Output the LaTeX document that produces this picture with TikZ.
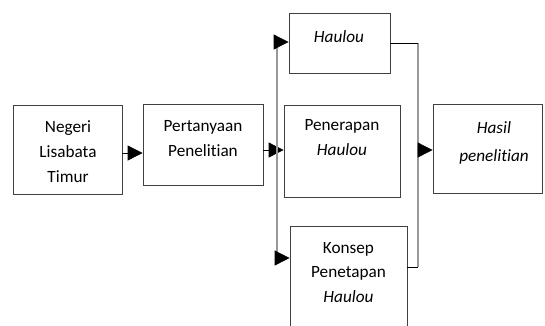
\documentclass[tikz,border=0pt]{standalone}
\usepackage{fontspec}
\setmainfont[Ligatures=NoCommon]{Carlito}
\usetikzlibrary{arrows.meta}
\begin{document}
\begin{tikzpicture}[x=1pt,y=-1pt,
  box/.style={draw=black!75,line width=0.8pt},
  txt/.style={align=center,inner sep=0pt,font=\fontsize{17.2}{25}\selectfont},
  arr/.style={line width=0.8pt,-{Triangle[length=15pt,width=15pt]}},
  vline/.style={draw=black!40,line width=1.2pt},
  hline/.style={draw=black,line width=1pt}]
\useasboundingbox (0,0) rectangle (545,325);
\clip (0,0) rectangle (545,325);
% boxes
\node[box,minimum width=109pt,minimum height=89pt,inner sep=0pt] (b1) at (67.5,149.5) {};
\node[box,minimum width=120pt,minimum height=81pt,inner sep=0pt] (b2) at (203,144.5) {};
\node[box,minimum width=101pt,minimum height=60pt,inner sep=0pt] (hau) at (339.5,43) {};
\node[box,minimum width=116pt,minimum height=92pt,inner sep=0pt] (pen) at (342,151) {};
\node[box,minimum width=117pt,minimum height=114pt,inner sep=0pt] (kon) at (348.5,283) {};
\node[box,minimum width=109pt,minimum height=89pt,inner sep=0pt] (has) at (487.5,148.5) {};
% texts
\node[txt] (t1) at (68,152) {Negeri\\Lisabata\\Timur};
\node[txt] (t2) at (203,138.5) {Pertanyaan\\Penelitian};
\node[txt] (t3) at (339,37) {\itshape Haulou};
\node[txt] (t4) at (342,137.5) {Penerapan\\\itshape Haulou};
\node[txt,font=\fontsize{17.2}{24.5}\selectfont] (t5) at (348.5,272.5) {Konsep\\Penetapan\\\itshape Haulou};
\node[txt,font=\fontsize{17.2}{28}\selectfont\itshape] (t6) at (494,143) {Hasil\\penelitian};
% helper coordinates
\coordinate (yA) at (0,153);
\coordinate (yB) at (0,150);
\coordinate (yH) at (0,42);
\coordinate (yK) at (0,258);
\coordinate (yR1) at (0,43);
\coordinate (yR2) at (0,267);
\coordinate (L) at (277,0);
\coordinate (R) at (418,0);
% connectors
\draw[arr] (b1.east |- yA) -- (b2.west |- yA);
\draw[arr] (b2.east |- yB) -- (pen.west |- yB);
\draw[vline] (L |- yH) -- (L |- yK);
\draw[arr] (L |- yH) -- (hau.west |- yH);
\draw[arr] (L |- yK) -- (kon.west |- yK);
\draw[vline] (R |- yR1) -- (R |- yR2);
\draw[hline] (hau.east |- yR1) -- (R |- yR1);
\draw[hline] (kon.east |- yR2) -- (R |- yR2);
\draw[arr] (R |- yB) -- (has.west |- yB);
\end{tikzpicture}
\end{document}
